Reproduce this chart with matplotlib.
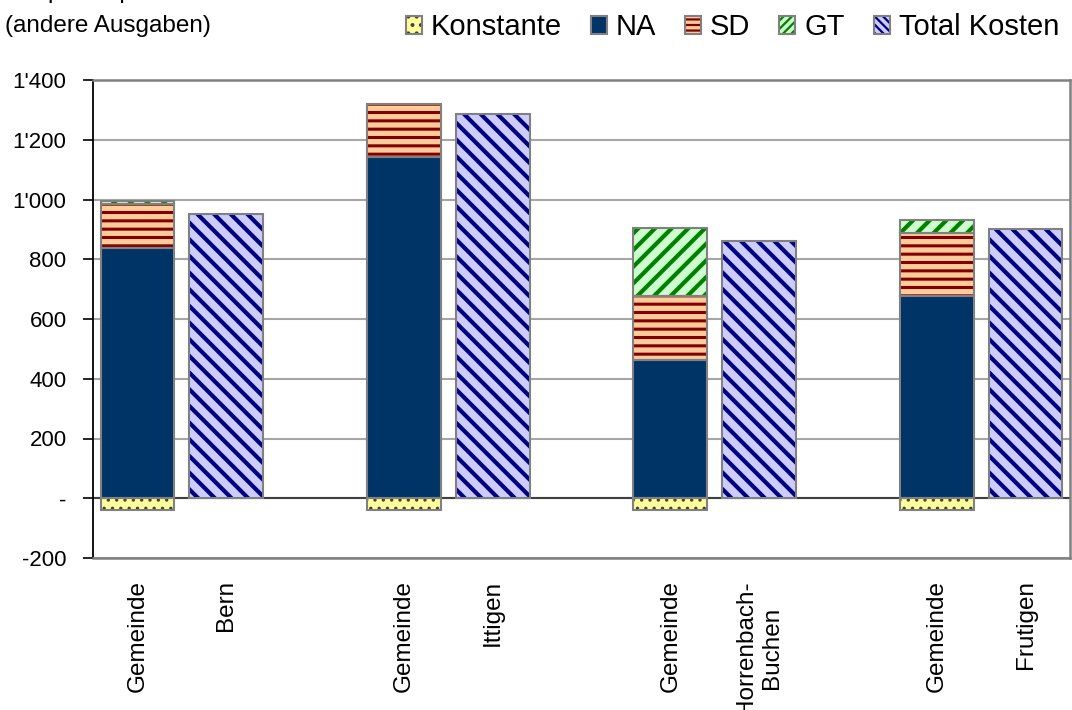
import numpy as np
import matplotlib
matplotlib.use("Agg")
import matplotlib.pyplot as plt
from matplotlib.patches import Patch
from matplotlib.legend_handler import HandlerTuple
from matplotlib.ticker import FuncFormatter

plt.rcParams['font.family'] = ['Liberation Sans', 'DejaVu Sans']
plt.rcParams['hatch.linewidth'] = 2.2

# data
orte = ['Bern', 'Ittigen', 'Horrenbach-\nBuchen', 'Frutigen']
konstante = [-40, -40, -40, -40]
na = [836, 1141, 462, 677]
sd = [150, 179, 215, 212]
gt = [8, 0, 226, 44]
total_kosten = [953, 1287, 861, 900]

# series styles: name -> (face, hatch colour, hatch, hatch width, legend hatch)
styles = {
    'Konstante': ('#FFFF99', '#404040', '..', 1.2, '..'),
    'NA': ('#003366', '#003366', None, 1.0, None),
    'SD': ('#FFCC99', '#800000', '--', 2.2, '---'),
    'GT': ('#CCFFCC', '#008000', '//', 3.0, '////'),
    'Total Kosten': ('#CCCCFF', '#000080', '\\\\', 3.0, '\\\\\\\\'),
}
edge = '#808080'

fig = plt.figure(figsize=(10.72, 7.10), dpi=100)
ax = fig.add_axes([93 / 1072, 1 - 558 / 710, 977 / 1072, 478 / 710])

x_gem = np.arange(len(orte)) * 3
x_tot = x_gem + 1
w = 0.83


def set_hw(patches, hw):
    for p in patches:
        if hasattr(p, 'set_hatch_linewidth'):
            p.set_hatch_linewidth(hw)


def bar(x, h, bottom, name):
    fc, hc, hatch, hw, _ = styles[name]
    plt.rcParams['hatch.linewidth'] = hw
    b = ax.bar(x, h, w, bottom=bottom, color=fc, edgecolor=hc, hatch=hatch,
               linewidth=0, zorder=3)
    set_hw(b, hw)
    ax.bar(x, h, w, bottom=bottom, facecolor='none', edgecolor=edge,
           linewidth=1.5, zorder=4)


na_a = np.array(na)
bar(x_gem, konstante, 0, 'Konstante')
bar(x_gem, na, 0, 'NA')
bar(x_gem, sd, na_a, 'SD')
gt_x = [x for x, g in zip(x_gem, gt) if g > 0]
gt_h = [g for g in gt if g > 0]
gt_b = [n + s for n, s, g in zip(na, sd, gt) if g > 0]
bar(gt_x, gt_h, gt_b, 'GT')
bar(x_tot, total_kosten, 0, 'Total Kosten')

ax.axhline(0, color='#404040', linewidth=1.5, zorder=2)

ax.set_xlim(-0.5, 10.5)
ax.set_ylim(-200, 1400)
ax.set_yticks(np.arange(-200, 1401, 200))
ax.yaxis.set_major_formatter(FuncFormatter(
    lambda v, p: '-' if v == 0 else f'{int(v):,}'.replace(',', "'")))
ax.grid(axis='y', color='#A6A6A6', linewidth=1.5, zorder=0)
ax.set_axisbelow(True)

xt = []
xl = []
for g, o in zip(x_gem, orte):
    xt += [g, g + 1]
    xl += ['Gemeinde', o]
ax.set_xticks(xt)
ax.set_xticklabels(xl, rotation=90, va='top', ha='center',
                   multialignment='center', fontsize=17.5)
ax.tick_params(axis='x', length=0, pad=16)
ax.tick_params(axis='y', labelsize=16, length=7, width=1.2, pad=12,
               direction='out', color='black')

for s in ['top', 'right', 'bottom']:
    ax.spines[s].set_color(edge)
    ax.spines[s].set_linewidth(1.8)
ax.spines['left'].set_color('black')
ax.spines['left'].set_linewidth(1.3)

# header text (first line is cut off at the top edge)
fig.text(5 / 1072, 1 + 2 / 710, 'Sfr. pro Kopf', fontsize=17.5, va='baseline')
fig.text(5 / 1072, 1 - 32 / 710, '(andere Ausgaben)', fontsize=17.5,
         va='baseline')

handles = []
for name, (fc, hc, hatch, hw, lhatch) in styles.items():
    lw_h = min(hw, 1.6)
    plt.rcParams['hatch.linewidth'] = lw_h
    hp = Patch(facecolor=fc, edgecolor=hc, hatch=lhatch, linewidth=0)
    set_hw([hp], lw_h)
    handles.append((hp, Patch(facecolor='none', edgecolor=edge, linewidth=1.5)))
fig.legend(handles, list(styles.keys()), ncol=5, loc='upper right',
           bbox_to_anchor=(1.0, 1.0), frameon=False, fontsize=21,
           handlelength=0.55, handleheight=0.55, handletextpad=0.3,
           columnspacing=1.0, borderaxespad=0.05,
           handler_map={tuple: HandlerTuple(ndivide=1, pad=0)})

fig.savefig('out.png', dpi=100)
